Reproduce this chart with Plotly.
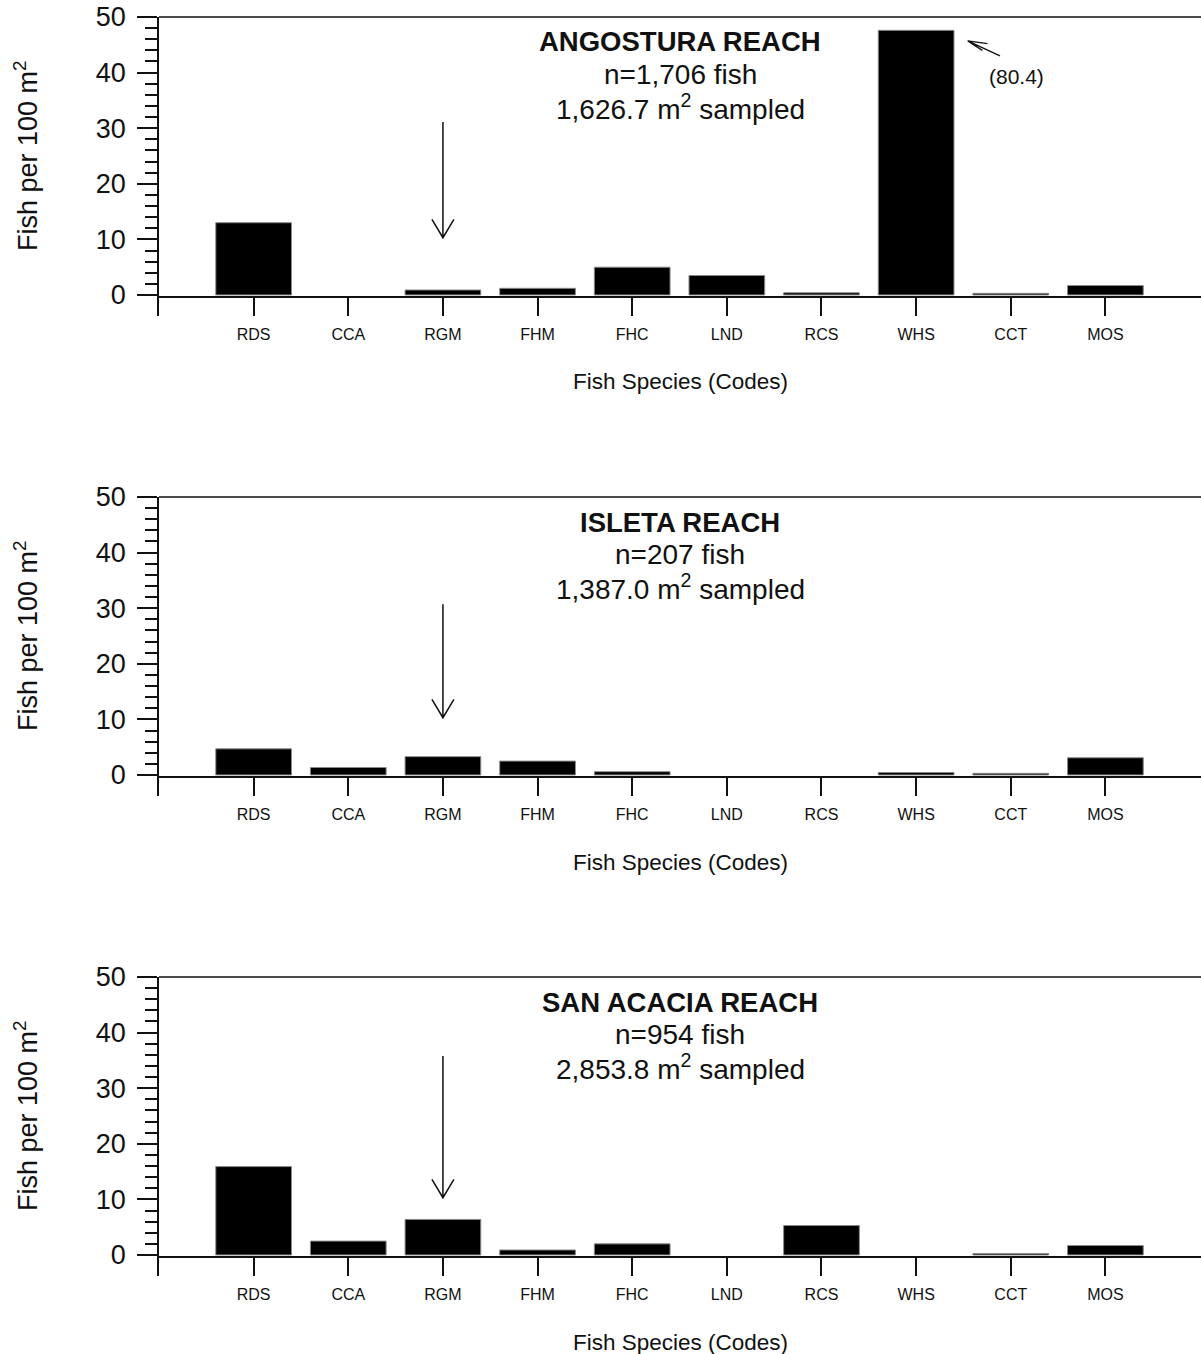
import plotly.graph_objects as go

species = ["RDS", "CCA", "RGM", "FHM", "FHC", "LND", "RCS", "WHS", "CCT", "MOS"]

angostura = [13.0, 0.0, 0.9, 1.2, 5.0, 3.5, 0.4, 47.6, 0.3, 1.7]
isleta = [4.7, 1.35, 3.3, 2.5, 0.6, 0.0, 0.0, 0.45, 0.3, 3.1]
san_acacia = [15.9, 2.5, 6.4, 0.9, 2.0, 0.0, 5.3, 0.0, 0.25, 1.7]

reach_names = ["ANGOSTURA REACH", "ISLETA REACH", "SAN ACACIA REACH"]
fish_counts = ["n=1,706 fish", "n=207 fish", "n=954 fish"]
areas = ["1,626.7 m<sup>2</sup> sampled", "1,387.0 m<sup>2</sup> sampled",
         "2,853.8 m<sup>2</sup> sampled"]
arrow_tops = [31.1, 30.7, 35.8]
whs_actual = "(80.4)"

W, H = 1201, 1354
FONT = "Liberation Sans, Arial, sans-serif"
INK = "#111111"
panel_tops = [17, 497, 977]      # px
plot_h = 299                      # px (17 -> 316)
ymin, ymax = -3.78, 50
x_left = 159

fig = go.Figure()
series = [angostura, isleta, san_acacia]
shapes = []
annotations = []

for i, vals in enumerate(series):
    n = i + 1
    xa = "x" if n == 1 else f"x{n}"
    ya = "y" if n == 1 else f"y{n}"
    top = panel_tops[i]
    dom = [1 - (top + plot_h) / H, 1 - top / H]
    fig.add_trace(go.Bar(
        x=list(range(len(species))), y=vals, width=0.8,
        marker=dict(color="black",
                    line=dict(color="#8a8a8a",
                              width=[1 if v > 0 else 0 for v in vals])),
        xaxis=xa, yaxis=ya, showlegend=False))
    xk = "xaxis" if n == 1 else f"xaxis{n}"
    yk = "yaxis" if n == 1 else f"yaxis{n}"
    fig.layout[xk] = dict(
        domain=[x_left / W, 1.0], anchor=ya, range=[-1, 10.01], automargin=False,
        tickmode="array", tickvals=list(range(len(species))), ticktext=species,
        ticks="inside", ticklen=19, tickwidth=1.5, tickcolor=INK,
        showline=False, showgrid=False, zeroline=False,
        tickfont=dict(family=FONT, size=16, color=INK), ticklabelstandoff=7)
    fig.layout[yk] = dict(
        domain=dom, anchor=xa, range=[ymin, ymax], automargin=False,
        tickmode="array", tickvals=[0, 10, 20, 30, 40, 50],
        ticks="outside", ticklen=20, tickwidth=1.5, tickcolor=INK,
        minor=dict(tickmode="array",
                   tickvals=[v for v in range(2, 50, 2) if v % 10],
                   ticks="outside", ticklen=12, tickwidth=1.5, tickcolor=INK),
        showline=True, linewidth=1.5, linecolor=INK,
        showgrid=False, zeroline=False, ticklabelstandoff=6,
        tickfont=dict(family=FONT, size=27, color=INK))
    xd = xa + " domain"
    yd = ya + " domain"
    shapes.append(dict(type="line", xref=xd, yref=yd, x0=0, x1=1, y0=1, y1=1,
                       line=dict(color=INK, width=1.5)))
    shapes.append(dict(type="line", xref=xd, yref=ya, x0=0, x1=1, y0=-0.36, y1=-0.36,
                       line=dict(color=INK, width=2)))
    ax = 2
    tip = 10.3
    shapes.append(dict(type="path", xref=xa, yref=ya,
                       path=f"M {ax},{arrow_tops[i]} L {ax},{tip} "
                            f"M {ax-0.116},{tip+3.3} L {ax},{tip} L {ax+0.116},{tip+3.3}",
                       line=dict(color=INK, width=1.5)))
    for txt, off, bold in [(reach_names[i], 25, True),
                           (fish_counts[i], 57, False),
                           (areas[i], 90, False)]:
        annotations.append(dict(
            xref="paper", yref="paper", x=680 / W, y=1 - (top + off) / H,
            text=f"<b>{txt}</b>" if bold else txt, showarrow=False,
            xanchor="center", yanchor="middle",
            font=dict(family=FONT, size=28 if not bold else 27.5, color=INK)))
    annotations.append(dict(
        xref="paper", yref=ya, x=26 / W, y=25, text="Fish per 100 m<sup>2</sup>",
        textangle=-90, showarrow=False, xanchor="center", yanchor="middle",
        font=dict(family=FONT, size=27, color=INK)))
    annotations.append(dict(
        xref="paper", yref="paper", x=680 / W, y=1 - (top + 365) / H,
        text="Fish Species (Codes)", showarrow=False,
        xanchor="center", yanchor="middle",
        font=dict(family=FONT, size=22.5, color=INK)))

shapes.append(dict(type="path", xref="x", yref="y",
                   path="M 7.886,43.0 L 7.545,45.7 M 7.754,45.2 L 7.545,45.7 L 7.70,44.0",
                   line=dict(color=INK, width=1.3)))
annotations.append(dict(xref="x", yref="y", x=8.06, y=39.3, text=whs_actual,
                        showarrow=False, xanchor="center", yanchor="middle",
                        font=dict(family=FONT, size=21, color=INK)))

fig.update_layout(
    width=W, height=H, margin=dict(l=0, r=0, t=0, b=0, autoexpand=False),
    paper_bgcolor="white", plot_bgcolor="white",
    shapes=shapes, annotations=annotations, bargap=0.2)

fig.write_html("out.html")
